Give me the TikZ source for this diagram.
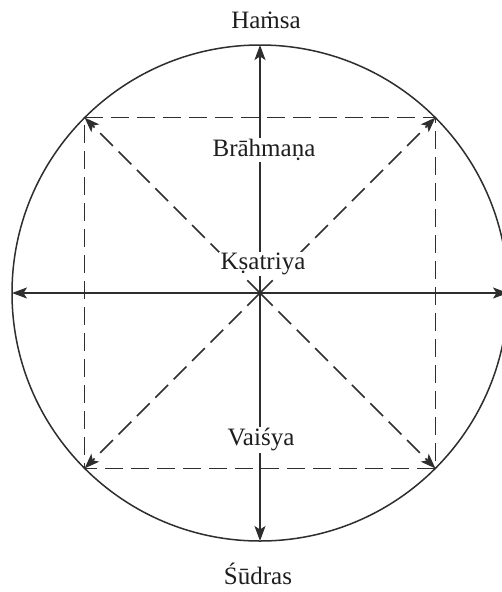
\documentclass[tikz,border=0pt]{standalone}
\usepackage{fontspec}
\setmainfont{Liberation Serif}
\usetikzlibrary{arrows.meta}
\definecolor{ink}{HTML}{2E2E2E}
\definecolor{txt}{HTML}{1E1E1E}
\begin{document}
\begin{tikzpicture}[x=1pt,y=-1pt,
  line width=1.5pt, draw=ink,
  tip/.style={-{Stealth[length=15pt,width=11pt,inset=3.5pt]}},
  dsh/.style={dash pattern=on 18pt off 8pt},
  lbl/.style={fill=white, inner sep=1.5pt, text=txt, font=\fontsize{25}{30}\selectfont}]
\useasboundingbox (0,0) rectangle (502,592);
\fill[white] (0,0) rectangle (502,592);
\coordinate (c) at (260,293);
\def\R{248}
\draw[ink] (c) circle [radius=\R];
\path (c) ++(0,-\R) coordinate (N);
\path (c) ++(0,\R) coordinate (S);
\path (c) ++(\R,0) coordinate (E);
\path (c) ++(-\R,0) coordinate (W);
\path (c) ++(175.4,-175.4) coordinate (NE);
\path (c) ++(-175.4,-175.4) coordinate (NW);
\path (c) ++(175.4,175.4) coordinate (SE);
\path (c) ++(-175.4,175.4) coordinate (SW);
% dashed square
\draw[ink,dsh] (NW) -- (NE) -- (SE) -- (SW) -- cycle;
% solid cardinal arrows
\foreach \p in {N,S,E,W} \draw[ink,tip] (c) -- (\p);
% dashed diagonal arrows
\foreach \p in {NE,NW,SE,SW} \draw[ink,dsh,tip] (c) -- (\p);
% labels
\node[lbl] (hamsa) at (266,20) {Haṁsa};
\node[lbl] (brahmana) at (264,150) {Brāhmaṇa};
\node[lbl] (ksatriya) at (263,264) {Kṣatriya};
\node[lbl] (vaisya) at (261,440) {Vaiśya};
\node[lbl, fill=none] (sudras) at (258,574) {Śūdras};
\end{tikzpicture}
\end{document}
